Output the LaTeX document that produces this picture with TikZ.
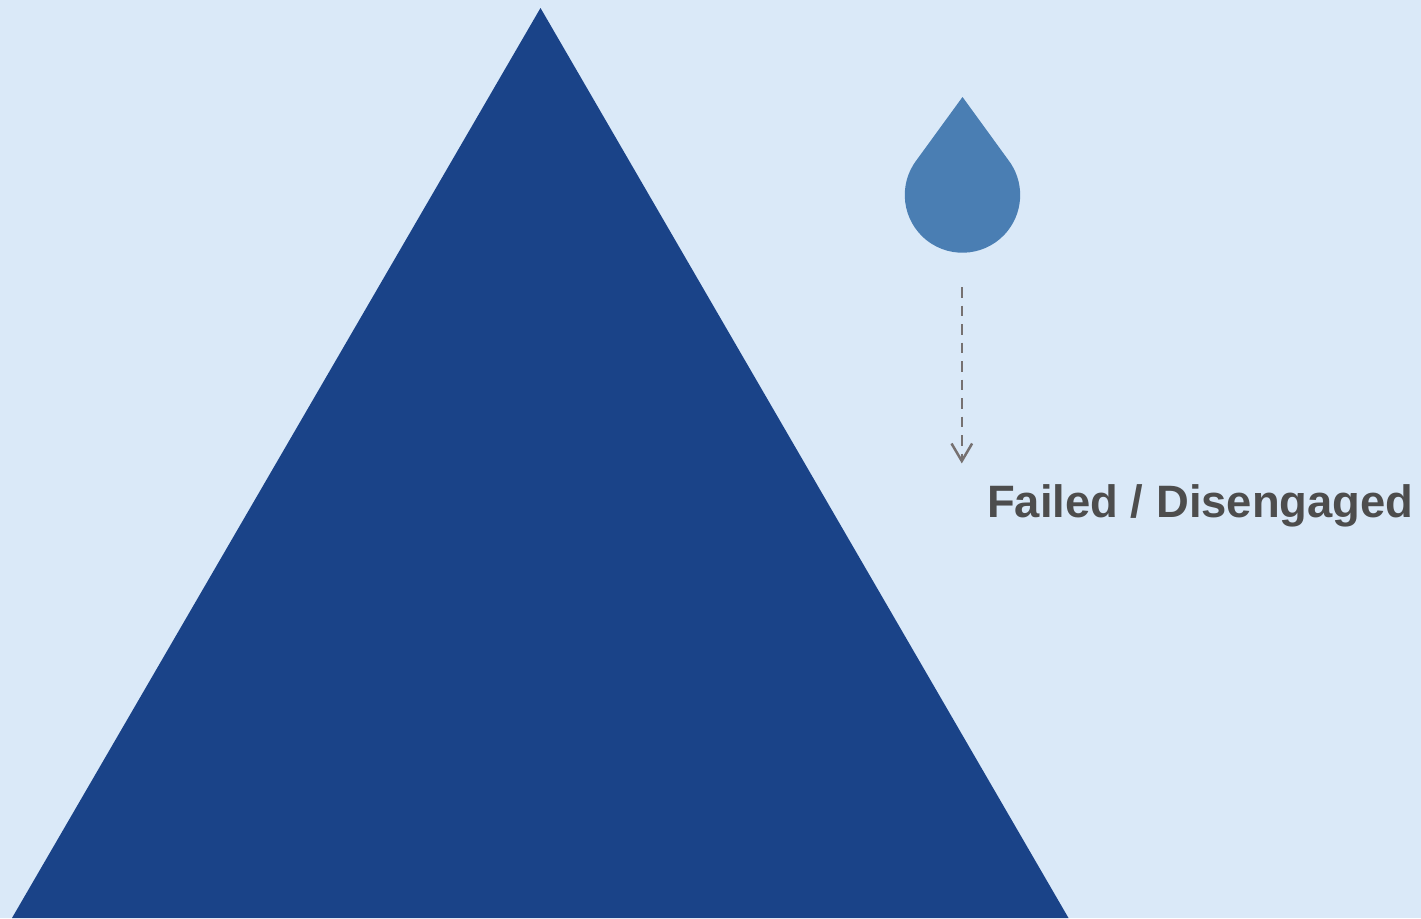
\documentclass[tikz,border=0pt]{standalone}
\usepackage{fontspec}
\setmainfont{Liberation Sans}
\usetikzlibrary{arrows.meta}
\definecolor{bgblue}{HTML}{DAE9F8}
\definecolor{peak}{HTML}{1A4388}
\definecolor{dropblue}{HTML}{4A7EB3}
\definecolor{linegray}{HTML}{767171}
\definecolor{labelgray}{HTML}{4D4D4D}
\tikzset{
  flowline/.style={draw=linegray,line width=2.5pt,dash pattern=on 10.5pt off 8pt},
  flowtip/.style={draw=linegray,line width=2.5pt},
  labeltext/.style={font=\bfseries\fontsize{45.4}{50}\selectfont,text=labelgray,inner sep=0pt,anchor=base west}
}
\begin{document}
\begin{tikzpicture}[x=1pt,y=-1pt]
\useasboundingbox (0,0) rectangle (1421,918);
\fill[bgblue] (0,0) rectangle (1421,918);
\fill[peak] (540.5,8) -- (12,918) -- (1068.5,918) -- cycle;
\fill[dropblue] (962.5,97) -- (917,159.5) arc[start angle=218,end angle=-38,radius=57.7] -- cycle;
\coordinate (dropbase) at (961.8,287);
\coordinate (flowend) at (961.8,461);
\draw[flowline] (dropbase) -- (flowend);
\draw[flowtip] (951.5,443.5) -- (flowend) -- (972.1,443.5);
\node[labeltext] (failed) at (987,517) {Failed / Disengaged};
\end{tikzpicture}
\end{document}
